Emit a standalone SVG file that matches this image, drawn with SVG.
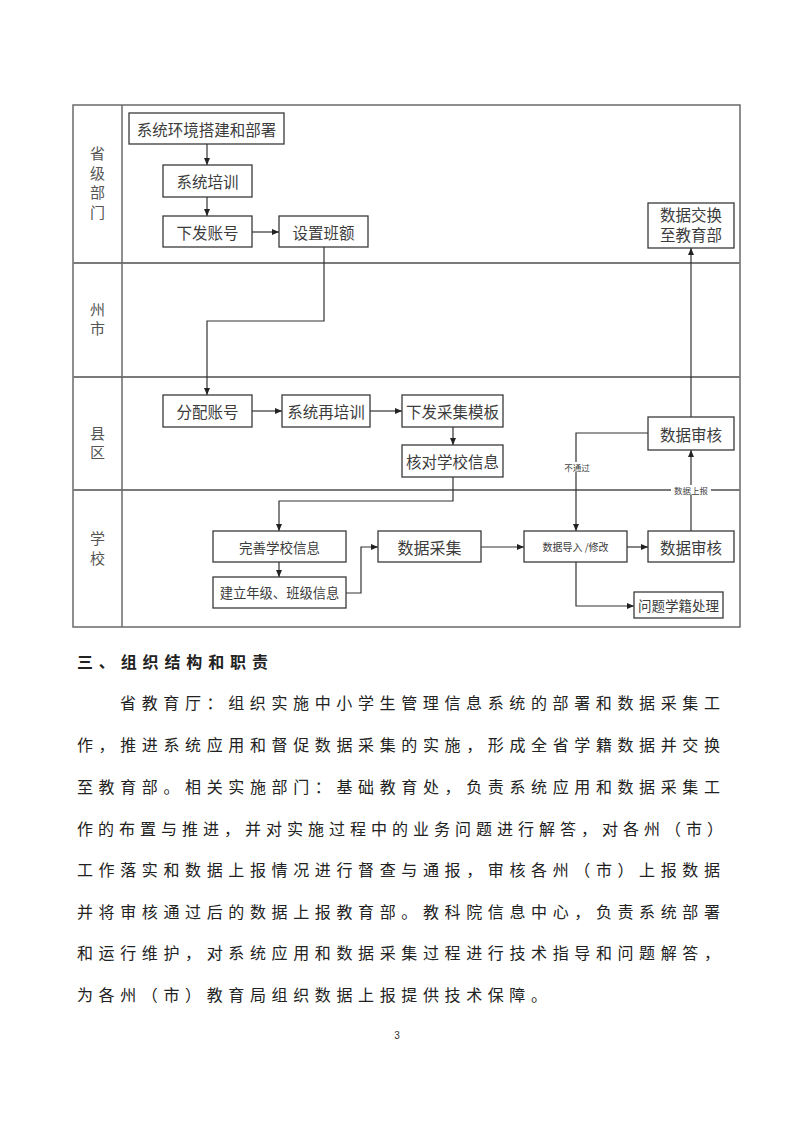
<svg xmlns="http://www.w3.org/2000/svg" width="794" height="1123" viewBox="0 0 794 1123">
<style>
.frame{fill:none;stroke:#6a6a6a;stroke-width:1.5}
.lane{stroke:#7a7a7a;stroke-width:2}
.box{fill:#fff;stroke:#3a3a3a;stroke-width:1.3}
.t{font-family:"Noto Sans CJK SC",sans-serif;fill:#3c3c3c;text-anchor:middle;dominant-baseline:central}
.lab{font-family:"Noto Sans CJK SC",sans-serif;fill:#555;font-size:15px;text-anchor:middle;writing-mode:vertical-rl}
.small{font-family:"Noto Sans CJK SC",sans-serif;fill:#444;font-size:8.5px;text-anchor:middle;dominant-baseline:central}
.c{fill:none;stroke:#333;stroke-width:1.2;marker-end:url(#ah)}
.body{font-family:"Noto Sans CJK SC",sans-serif;fill:#222;font-size:16px;dominant-baseline:central}
</style>
<defs>
<marker id="ah" markerWidth="8" markerHeight="8" refX="7" refY="4" orient="auto" markerUnits="userSpaceOnUse">
<path d="M0,1 L7,4 L0,7 Z" fill="#222"/>
</marker>
</defs>
<rect width="794" height="1123" fill="#fff"/>

<g id="lanes">
<rect class="frame" x="73" y="105" width="667" height="522"/>
<line class="lane" x1="73" y1="263" x2="740" y2="263"/>
<line class="lane" x1="73" y1="377" x2="740" y2="377"/>
<line class="lane" x1="73" y1="490" x2="740" y2="490"/>
<line class="frame" x1="122" y1="105" x2="122" y2="627"/>
<text class="lab" x="97.5" y="185" letter-spacing="4.5">省级部门</text>
<text class="lab" x="97.5" y="321" letter-spacing="4">州市</text>
<text class="lab" x="97.5" y="444.5" letter-spacing="4">县区</text>
<text class="lab" x="97.5" y="551" letter-spacing="5">学校</text>
</g>

<g id="connectors">
<path class="c" d="M207,144 V165"/>
<path class="c" d="M207,197 V216"/>
<path class="c" d="M252,232 H279"/>
<path class="c" d="M324,247 V321 H207 V395"/>
<path class="c" d="M252,411 H282"/>
<path class="c" d="M370,411 H402"/>
<path class="c" d="M453,427 V445"/>
<path class="c" d="M453,477 V501 H279 V531"/>
<path class="c" d="M279,562 V577"/>
<path class="c" d="M346,593 H361 V547 H378"/>
<path class="c" d="M481,547 H524"/>
<path class="c" d="M627,547 H648"/>
<path class="c" d="M576,562 V606 H634"/>
<path class="c" d="M691,531 V450"/>
<path class="c" d="M648,433 H576 V531"/>
<path class="c" d="M691,417 V248"/>
<rect x="671" y="485" width="40" height="10" fill="#fff"/>
<text class="small" x="691" y="490">数据上报</text>
<rect x="563" y="462" width="27" height="10" fill="#fff"/>
<text class="small" x="577" y="467">不通过</text>
</g>

<g id="n1"><rect class="box" x="129" y="113" width="155" height="31"/><text class="t" x="206.5" y="128.5" font-size="15.5">系统环境搭建和部署</text></g>
<g id="n2"><rect class="box" x="163" y="165" width="89" height="32"/><text class="t" x="207.5" y="181" font-size="15.5">系统培训</text></g>
<g id="n3"><rect class="box" x="163" y="216" width="89" height="31"/><text class="t" x="207.5" y="231.5" font-size="15.5">下发账号</text></g>
<g id="n4"><rect class="box" x="279" y="216" width="89" height="31"/><text class="t" x="323.5" y="231.5" font-size="15.5">设置班额</text></g>
<g id="n5"><rect class="box" x="648" y="203" width="86" height="45"/><text class="t" x="691" y="214" font-size="15.5">数据交换</text><text class="t" x="691" y="234" font-size="15.5">至教育部</text></g>
<g id="n6"><rect class="box" x="163" y="395" width="89" height="32"/><text class="t" x="207.5" y="411" font-size="15.5">分配账号</text></g>
<g id="n7"><rect class="box" x="282" y="395" width="88" height="32"/><text class="t" x="326" y="411" font-size="15.5">系统再培训</text></g>
<g id="n8"><rect class="box" x="402" y="395" width="101" height="32"/><text class="t" x="452.5" y="411" font-size="15.5">下发采集模板</text></g>
<g id="n9"><rect class="box" x="402" y="445" width="101" height="32"/><text class="t" x="452.5" y="461" font-size="15.5">核对学校信息</text></g>
<g id="n10"><rect class="box" x="648" y="417" width="86" height="33"/><text class="t" x="691" y="433.5" font-size="15.5">数据审核</text></g>
<g id="n11"><rect class="box" x="213" y="531" width="133" height="31"/><text class="t" x="279.5" y="546.5" font-size="13.5">完善学校信息</text></g>
<g id="n12"><rect class="box" x="213" y="577" width="133" height="31"/><text class="t" x="279.5" y="592.5" font-size="13.3">建立年级、班级信息</text></g>
<g id="n13"><rect class="box" x="378" y="531" width="103" height="31"/><text class="t" x="429.5" y="546.5" font-size="16">数据采集</text></g>
<g id="n14"><rect class="box" x="524" y="531" width="103" height="31"/><text class="t" x="575.5" y="546.5" font-size="10">数据导入 /修改</text></g>
<g id="n15"><rect class="box" x="648" y="531" width="86" height="31"/><text class="t" x="691" y="546.5" font-size="15.5">数据审核</text></g>
<g id="n16"><rect class="box" x="634" y="592" width="89" height="26"/><text class="t" x="678.5" y="605" font-size="13.5">问题学籍处理</text></g>

<g id="body">
<text class="body" x="77" y="661" font-size="18" font-weight="bold" textLength="191" lengthAdjust="spacing">三、组织结构和职责</text>
<text class="body" x="120" y="702" textLength="600" lengthAdjust="spacing">省教育厅：组织实施中小学生管理信息系统的部署和数据采集工</text>
<text class="body" x="77" y="744" textLength="643" lengthAdjust="spacing">作，推进系统应用和督促数据采集的实施，形成全省学籍数据并交换</text>
<text class="body" x="77" y="786" textLength="643" lengthAdjust="spacing">至教育部。相关实施部门：基础教育处，负责系统应用和数据采集工</text>
<text class="body" x="77" y="828" textLength="646" lengthAdjust="spacing">作的布置与推进，并对实施过程中的业务问题进行解答，对各州（市）</text>
<text class="body" x="77" y="869" textLength="643" lengthAdjust="spacing">工作落实和数据上报情况进行督查与通报，审核各州（市）上报数据</text>
<text class="body" x="77" y="911" textLength="643" lengthAdjust="spacing">并将审核通过后的数据上报教育部。教科院信息中心，负责系统部署</text>
<text class="body" x="77" y="952" textLength="643" lengthAdjust="spacing">和运行维护，对系统应用和数据采集过程进行技术指导和问题解答，</text>
<text class="body" x="77" y="994" textLength="470" lengthAdjust="spacing">为各州（市）教育局组织数据上报提供技术保障。</text>
<text x="397" y="1035" font-family="Liberation Sans, sans-serif" font-size="10" fill="#333" text-anchor="middle" dominant-baseline="central">3</text>
</g>
</svg>
